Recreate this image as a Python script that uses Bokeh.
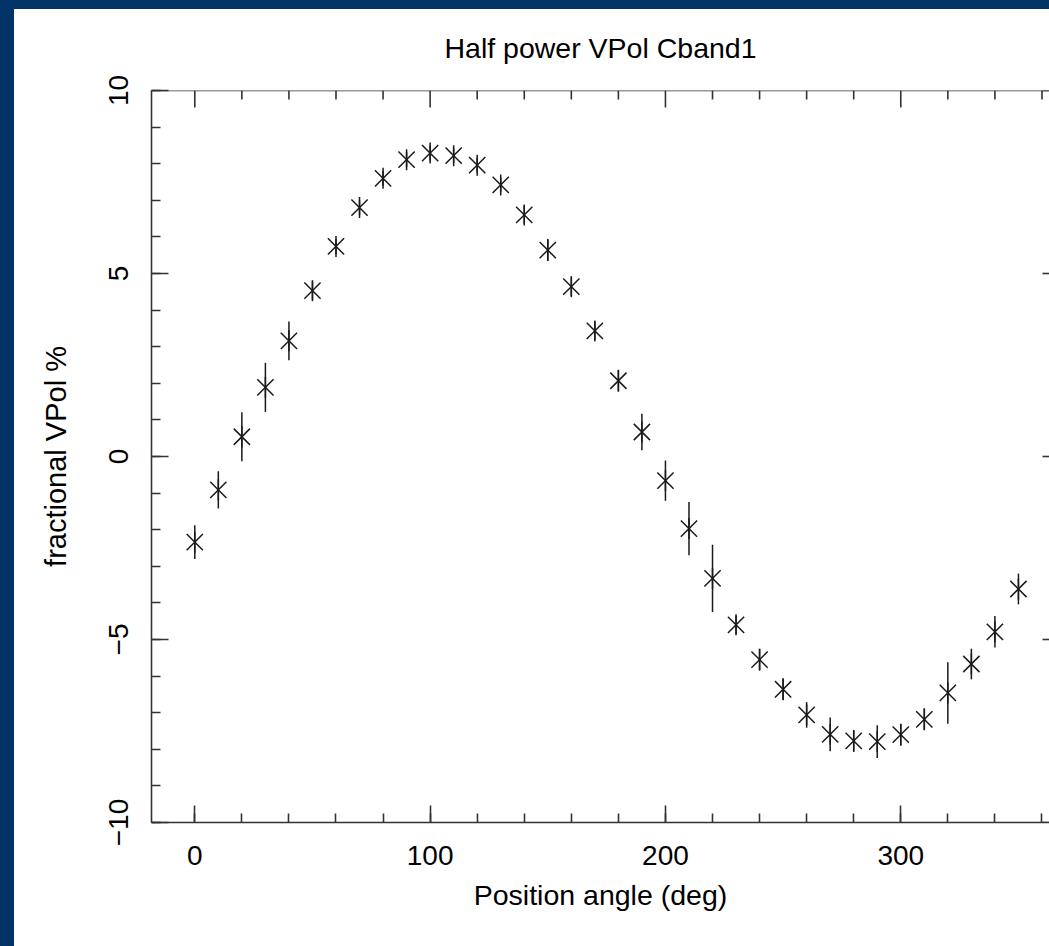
import math
from bokeh.plotting import figure
from bokeh.models import (ColumnDataSource, SingleIntervalTicker, Span,
                          GlobalInlineStyleSheet, Range1d)
from bokeh.embed import file_html
from bokeh.resources import INLINE

# ---------------- data ----------------
angle_deg = [0, 10, 20, 30, 40, 50, 60, 70, 80, 90, 100, 110, 120, 130, 140, 150,
             160, 170, 180, 190, 200, 210, 220, 230, 240, 250, 260, 270, 280, 290,
             300, 310, 320, 330, 340, 350]
vpol = [-2.34, -0.91, 0.54, 1.89, 3.16, 4.53, 5.74, 6.80, 7.60, 8.11, 8.29, 8.22,
        7.96, 7.42, 6.60, 5.64, 4.64, 3.43, 2.07, 0.67, -0.66, -1.97, -3.33, -4.60,
        -5.55, -6.36, -7.06, -7.59, -7.77, -7.79, -7.60, -7.18, -6.46, -5.67, -4.79,
        -3.62]
vpol_err = [0.46, 0.51, 0.67, 0.67, 0.53, 0.25, 0.20, 0.20, 0.20, 0.20, 0.20, 0.20,
            0.20, 0.20, 0.25, 0.30, 0.25, 0.25, 0.30, 0.50, 0.55, 0.73, 0.92, 0.25,
            0.30, 0.30, 0.35, 0.46, 0.30, 0.45, 0.30, 0.30, 0.84, 0.42, 0.43, 0.42]
x_major_ticks = [0, 100, 200, 300]
x_minor_ticks = [20, 40, 60, 80, 120, 140, 160, 180, 220, 240, 260, 280, 320, 340, 360]
y_major_ticks = [-10, -5, 0, 5, 10]
title_text = "Half power VPol Cband1"
x_label = "Position angle (deg)"
y_label = "fractional VPol %"

# ---------------- layout constants ----------------
W, H = 1049, 946
BL, BR, BT, BB = 151, 0, 90, 124
X_START, X_END = -18.4, 363.2
Y_START, Y_END = -10, 10
NAVY = "#003366"
INK = "#1a1a1a"
AX = "#333333"
FONT = "Liberation Sans"
MAJOR_LEN, MINOR_LEN = 17, 9

css = (
    "html { background: "
    f"linear-gradient({NAVY},{NAVY}) 0 0 / 100% 9px no-repeat, "
    f"linear-gradient({NAVY},{NAVY}) 0 0 / 14px 100% repeat-y, #ffffff; min-height:100%; }} "
    "body { background: transparent; }"
)

p = figure(width=W, height=H, output_backend="svg", toolbar_location=None,
           x_range=Range1d(X_START, X_END), y_range=Range1d(Y_START, Y_END),
           min_border_left=BL, min_border_right=BR, min_border_top=BT,
           min_border_bottom=BB)
p.stylesheets = [GlobalInlineStyleSheet(css=css)]
p.border_fill_color = None
p.background_fill_color = "white"
p.outline_line_color = None
p.grid.visible = False

p.title.text = title_text
p.title.align = "center"
p.title.text_font = FONT
p.title.text_font_size = "28.5px"
p.title.text_font_style = "normal"
p.title.text_color = "black"
p.title.standoff = 53

for ax in (p.xaxis[0], p.yaxis[0]):
    ax.axis_line_color = AX
    ax.axis_line_width = 1.6
    ax.major_tick_line_color = AX
    ax.major_tick_line_width = 1.6
    ax.minor_tick_line_color = AX
    ax.minor_tick_line_width = 1.6
    ax.major_tick_in = MAJOR_LEN
    ax.major_tick_out = 0
    ax.minor_tick_in = MINOR_LEN
    ax.minor_tick_out = 0
    ax.major_label_text_font = FONT
    ax.major_label_text_font_size = "28px"
    ax.major_label_text_color = "black"
    ax.axis_label_text_font = FONT
    ax.axis_label_text_font_style = "normal"
    ax.axis_label_text_color = "black"

p.xaxis.ticker = SingleIntervalTicker(interval=100, num_minor_ticks=5)
p.yaxis.ticker = SingleIntervalTicker(interval=5, num_minor_ticks=5)
p.xaxis.axis_label = x_label
p.xaxis.axis_label_text_font_size = "28.5px"
p.xaxis.major_label_standoff = 23
p.xaxis.axis_label_standoff = 11
p.yaxis.axis_label = y_label
p.yaxis.axis_label_text_font_size = "29px"
p.yaxis.major_label_orientation = "parallel"
p.yaxis.major_label_standoff = 24
p.yaxis.axis_label_standoff = 34

# top edge of the box (the right edge lies just beyond the visible area)
frame_w = W - BL - BR
frame_h = H - BT - BB
px_x = frame_w / (X_END - X_START)
px_y = frame_h / (Y_END - Y_START)
p.add_layout(Span(location=Y_END, dimension="width", line_color=AX, line_width=1.6))
p.segment(x0=x_major_ticks, y0=[Y_END] * len(x_major_ticks),
          x1=x_major_ticks, y1=[Y_END - MAJOR_LEN / px_y] * len(x_major_ticks),
          line_color=AX, line_width=1.6)
p.segment(x0=x_minor_ticks, y0=[Y_END] * len(x_minor_ticks),
          x1=x_minor_ticks, y1=[Y_END - MINOR_LEN / px_y] * len(x_minor_ticks),
          line_color=AX, line_width=1.6)
stub = (MAJOR_LEN - 10) / px_x
p.segment(x0=[X_END - stub] * len(y_major_ticks), y0=y_major_ticks,
          x1=[X_END] * len(y_major_ticks), y1=y_major_ticks,
          line_color=AX, line_width=1.6)

src = ColumnDataSource(dict(
    x=angle_deg, y=vpol,
    lo=[v - e for v, e in zip(vpol, vpol_err)],
    hi=[v + e for v, e in zip(vpol, vpol_err)],
))
p.segment(x0="x", y0="lo", x1="x", y1="hi", source=src, line_color=INK, line_width=1.5)
p.scatter(x="x", y="y", source=src, marker="x", size=23, line_color=INK, line_width=1.5)
p.scatter(x="x", y="y", source=src, marker="dash", angle=math.pi / 2, size=21,
          line_color=INK, line_width=1.5)

open("out.html", "w").write(file_html(p, INLINE))
